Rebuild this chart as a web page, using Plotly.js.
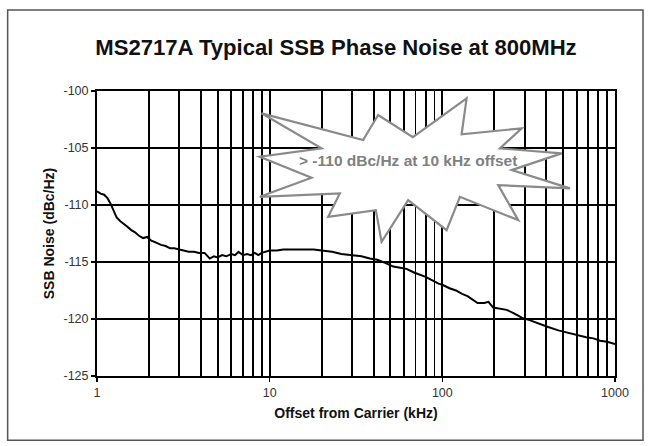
<!DOCTYPE html>
<html>
<head>
<meta charset="utf-8">
<script src="https://cdn.plot.ly/plotly-3.0.1.min.js"></script>
<style>
  html, body { margin: 0; padding: 0; background: #fff; }
  #chart { width: 648px; height: 446px; }
</style>
</head>
<body>
<div id="chart"></div>
<script>
// ---- data ----
const offsetKHz = [
  1.00, 1.05, 1.10, 1.15, 1.20, 1.25, 1.30, 1.36, 1.42, 1.50,
  1.58, 1.66, 1.75, 1.85, 1.95, 2.05, 2.20, 2.35, 2.50, 2.65,
  2.80, 3.00, 3.20, 3.40, 3.65, 3.90, 4.20, 4.50, 4.75, 5.00,
  5.30, 5.60, 6.00, 6.30, 6.60, 7.00, 7.40, 7.80, 8.20, 8.60,
  9.00, 9.50, 10.0, 11.0, 12.0, 14.0, 16.0, 18.0, 20.0, 23.0,
  26.0, 30.0, 34.0, 38.0, 42.0, 47.0, 52.0, 57.0, 62.0, 68.0,
  74.0, 80.0, 87.0, 95.0, 100, 110, 120, 130, 140, 150,
  160, 175, 185, 197, 215, 236, 260, 290, 320, 360,
  410, 470, 530, 600, 680, 750, 820, 900, 960, 1000
];
const ssbNoise = [
  -108.8, -109.0, -109.1, -109.4, -109.9, -110.6, -111.1, -111.4, -111.6, -111.9,
  -112.2, -112.4, -112.7, -112.9, -112.8, -113.1, -113.3, -113.5, -113.6, -113.8,
  -113.8, -113.9, -114.0, -114.1, -114.1, -114.2, -114.2, -114.7, -114.5, -114.6,
  -114.4, -114.5, -114.3, -114.4, -114.1, -114.4, -114.3, -114.4, -114.2, -114.4,
  -114.2, -114.1, -114.0, -114.0, -113.9, -113.9, -113.9, -113.9, -114.0, -114.1,
  -114.3, -114.4, -114.5, -114.7, -114.8, -115.1, -115.4, -115.5, -115.6, -115.9,
  -116.1, -116.3, -116.6, -116.9, -117.0, -117.3, -117.5, -117.8, -118.0, -118.3,
  -118.6, -118.6, -118.5, -119.0, -119.1, -119.2, -119.5, -119.9, -120.1, -120.4,
  -120.7, -121.0, -121.2, -121.4, -121.6, -121.7, -121.9, -122.0, -122.1, -122.2
];
const xTickVals = [1, 10, 100, 1000];
const xTickText = ['1', '10', '100', '1000'];
const yTickVals = [-125, -120, -115, -110, -105, -100];
const yTickText = ['-125', '-120', '-115', '-110', '-105', '-100'];
const chartTitle = 'MS2717A Typical SSB Phase Noise at 800MHz';
const xTitle = 'Offset from Carrier (kHz)';
const yTitle = 'SSB Noise (dBc/Hz)';
const calloutText = '> -110 dBc/Hz at 10 kHz offset';

// ---- layout helpers ----
const W = 648, H = 446;
const PL = 97.3, PR = 615, PT = 91, PB = 375.7;
const fx = px => (px - PL) / (PR - PL);
const fy = py => (PB - py) / (PB - PT);

// minor gridlines at 2..9 x 10^k
const minorVals = [];
for (let k = 0; k < 3; k++) for (let d = 2; d <= 9; d++) minorVals.push(d * Math.pow(10, k));

// starburst outline (pixel positions in the figure)
const burst = [
  [261.7,113.3],[363.3,140],[378.3,115],[413,137],[466.7,98.3],[461.7,134.3],
  [521.7,128.3],[500,148.3],[561.7,153.3],[511.7,170],[570,188.3],[498.3,185],
  [518.3,220],[460,196.7],[446.7,230],[408.3,200],[381.7,241.7],[376,210],
  [328.3,216.7],[340,193.3],[260,196.7],[311.7,177.7],[260,156.7],[321.7,148.3]
];
const burstPath = burst.map((p, i) => (i ? 'L' : 'M') + fx(p[0]).toFixed(4) + ',' + fy(p[1]).toFixed(4)).join(' ') + ' Z';

const FONT = '"Liberation Sans", Arial, Helvetica, sans-serif';

const trace = {
  x: offsetKHz,
  y: ssbNoise,
  type: 'scatter',
  mode: 'lines',
  line: { color: '#000', width: 2 },
  hoverinfo: 'skip'
};

const layout = {
  width: W, height: H,
  paper_bgcolor: '#fff',
  plot_bgcolor: '#fff',
  showlegend: false,
  margin: { l: PL, r: W - PR, t: PT, b: H - PB, pad: 0 },
  font: { family: FONT, color: '#000' },
  title: {
    text: '<b>' + chartTitle + '</b>',
    font: { family: FONT, size: 22.1, color: '#111' },
    xref: 'container', yref: 'container',
    x: 336 / W, xanchor: 'center',
    y: 1 - 47 / H, yanchor: 'middle'
  },
  xaxis: {
    type: 'log',
    range: [0, 3],
    tickmode: 'array',
    tickvals: xTickVals,
    ticktext: xTickText,
    ticks: 'outside', ticklen: 4, tickwidth: 1.5, tickcolor: '#000',
    tickfont: { family: FONT, size: 12.5, color: '#333' },
    showgrid: true, gridcolor: '#000', gridwidth: 1.8,
    minor: { tickmode: 'array', tickvals: minorVals, showgrid: true, gridcolor: '#000', gridwidth: 1.8, ticks: '' },
    showline: true, linecolor: '#000', linewidth: 2, mirror: true,
    zeroline: false,
    automargin: false,
    title: { text: '<b>' + xTitle + '</b>', font: { family: FONT, size: 14, color: '#111' }, standoff: 9 }
  },
  yaxis: {
    range: [-125, -100],
    tickmode: 'array',
    tickvals: yTickVals,
    ticktext: yTickText,
    ticks: 'outside', ticklen: 4, tickwidth: 1.5, tickcolor: '#000',
    tickfont: { family: FONT, size: 12.5, color: '#333' },
    showgrid: true, gridcolor: '#000', gridwidth: 1.8,
    showline: true, linecolor: '#000', linewidth: 2, mirror: true,
    zeroline: false,
    automargin: false,
    title: { text: '<b>' + yTitle + '</b>', font: { family: FONT, size: 14, color: '#111' }, standoff: 6 }
  },
  shapes: [
    { type: 'path', xref: 'paper', yref: 'paper', path: burstPath,
      fillcolor: '#fff', line: { color: '#8a8a8a', width: 2.2 }, layer: 'above' },
    { type: 'rect', xref: 'paper', yref: 'paper',
      x0: fx(8), x1: fx(643), y0: fy(440), y1: fy(10),
      line: { color: '#555', width: 1.5 }, fillcolor: 'rgba(0,0,0,0)', layer: 'below' }
  ],
  annotations: [
    { xref: 'paper', yref: 'paper', x: fx(408), y: fy(160), xanchor: 'center', yanchor: 'middle',
      text: '<b>' + calloutText + '</b>', showarrow: false,
      font: { family: FONT, size: 15.5, color: '#808080' } }
  ]
};

Plotly.newPlot('chart', [trace], layout, { staticPlot: true, displayModeBar: false });
</script>
</body>
</html>
